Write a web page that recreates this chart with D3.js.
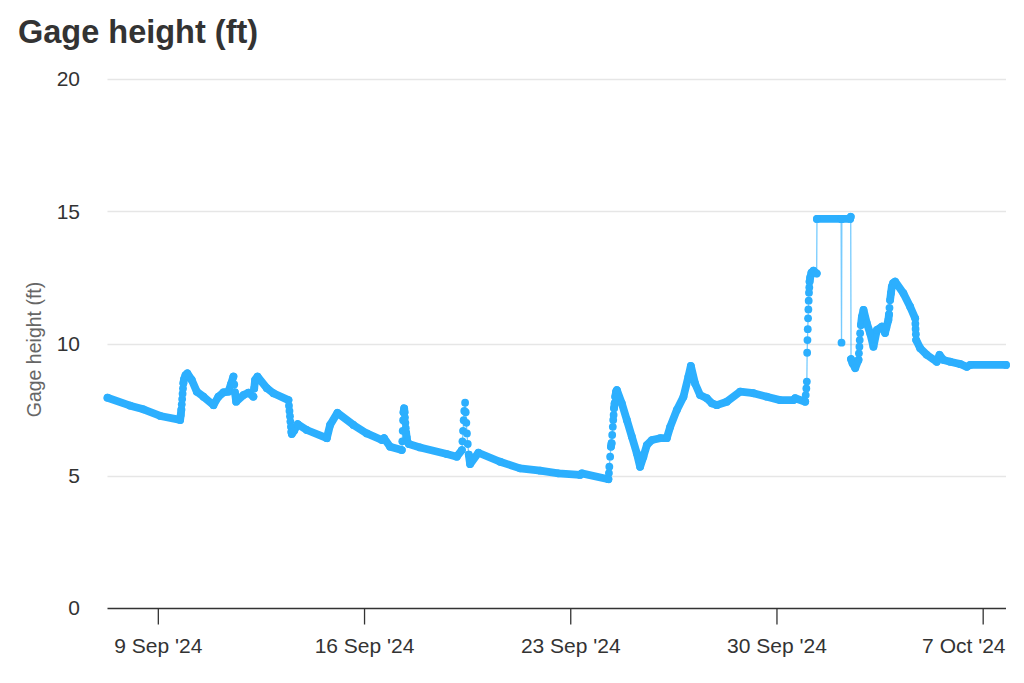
<!DOCTYPE html>
<html lang="en">
<head>
<meta charset="utf-8">
<style>
  body { margin: 0; background: #fff; }
  svg { display: block; font-family: "Liberation Sans", Arial, Helvetica, sans-serif; }
  .grid line { stroke: #e6e6e6; stroke-width: 1.5; }
  .x-axis path, .x-axis line { stroke: #333; stroke-width: 1.3; }
  .x-axis text, .y-labels text { fill: #333; font-size: 21px; }
</style>
</head>
<body>
<script src="https://cdn.jsdelivr.net/npm/d3@7"></script>
<script>
// gage readings (local time)
var readingTimes = [
  "2024-09-07 07:00", "2024-09-08 01:30", "2024-09-08 12:15", "2024-09-09 02:00", "2024-09-09 18:10",
  "2024-09-09 18:40", "2024-09-09 19:10", "2024-09-09 19:30", "2024-09-09 19:50", "2024-09-09 20:10",
  "2024-09-09 20:30", "2024-09-09 20:50", "2024-09-09 21:20", "2024-09-09 22:30", "2024-09-10 00:05",
  "2024-09-10 03:40", "2024-09-10 07:45", "2024-09-10 13:10", "2024-09-10 21:20", "2024-09-11 01:20",
  "2024-09-11 05:25", "2024-09-11 09:30", "2024-09-11 11:30", "2024-09-11 13:35", "2024-09-11 14:15",
  "2024-09-11 14:50", "2024-09-11 15:50", "2024-09-11 21:45", "2024-09-12 01:50", "2024-09-12 05:50",
  "2024-09-12 06:30", "2024-09-12 07:15", "2024-09-12 09:10", "2024-09-12 16:50", "2024-09-12 22:10",
  "2024-09-13 10:25", "2024-09-13 10:50", "2024-09-13 11:15", "2024-09-13 11:40", "2024-09-13 12:00",
  "2024-09-13 12:25", "2024-09-13 12:50", "2024-09-13 13:10", "2024-09-13 15:00", "2024-09-13 18:00",
  "2024-09-14 01:20", "2024-09-14 17:40", "2024-09-14 20:20", "2024-09-15 02:20", "2024-09-15 15:20",
  "2024-09-16 02:15", "2024-09-16 14:30", "2024-09-16 16:20", "2024-09-16 21:15", "2024-09-17 06:45",
  "2024-09-17 07:10", "2024-09-17 07:30", "2024-09-17 07:50", "2024-09-17 08:10", "2024-09-17 08:40",
  "2024-09-17 09:00", "2024-09-17 09:20", "2024-09-17 09:40", "2024-09-17 10:00", "2024-09-17 10:20",
  "2024-09-17 10:45", "2024-09-17 11:15", "2024-09-17 12:30", "2024-09-17 21:40", "2024-09-18 19:25",
  "2024-09-19 03:35", "2024-09-19 07:40", "2024-09-19 08:10", "2024-09-19 08:40", "2024-09-19 09:10",
  "2024-09-19 09:40", "2024-09-19 10:20", "2024-09-19 10:50", "2024-09-19 11:20", "2024-09-19 11:50",
  "2024-09-19 12:30", "2024-09-19 13:20", "2024-09-19 14:25", "2024-09-19 21:10", "2024-09-20 14:50",
  "2024-09-21 07:10", "2024-09-21 23:30", "2024-09-22 14:20", "2024-09-23 08:00", "2024-09-23 09:25",
  "2024-09-24 07:05", "2024-09-24 07:30", "2024-09-24 07:50", "2024-09-24 08:30", "2024-09-24 09:10",
  "2024-09-24 09:40", "2024-09-24 10:10", "2024-09-24 10:40", "2024-09-24 11:00", "2024-09-24 11:20",
  "2024-09-24 11:40", "2024-09-24 12:10", "2024-09-24 12:40", "2024-09-24 13:20", "2024-09-24 14:00",
  "2024-09-24 18:00", "2024-09-24 22:05", "2024-09-25 02:10", "2024-09-25 06:15", "2024-09-25 08:55",
  "2024-09-25 11:35", "2024-09-25 14:25", "2024-09-25 18:30", "2024-09-26 01:15", "2024-09-26 06:40",
  "2024-09-26 09:25", "2024-09-26 14:50", "2024-09-26 20:15", "2024-09-27 00:15", "2024-09-27 02:15",
  "2024-09-27 05:40", "2024-09-27 09:45", "2024-09-27 15:15", "2024-09-27 19:20", "2024-09-27 23:25",
  "2024-09-28 07:35", "2024-09-28 18:25", "2024-09-29 05:15", "2024-09-29 16:10", "2024-09-30 02:55",
  "2024-09-30 13:50", "2024-09-30 15:15", "2024-09-30 23:25",
  "2024-09-30 23:50", "2024-10-01 00:20", "2024-10-01 00:45", "2024-10-01 01:00", "2024-10-01 01:15",
  "2024-10-01 01:30", "2024-10-01 01:45", "2024-10-01 02:00", "2024-10-01 02:15", "2024-10-01 02:30",
  "2024-10-01 02:45", "2024-10-01 03:00", "2024-10-01 03:30", "2024-10-01 04:30", "2024-10-01 06:10",
  "2024-10-01 08:45", "2024-10-01 09:00", "2024-10-02 04:40", "2024-10-02 05:00", "2024-10-02 05:15",
  "2024-10-02 12:00", "2024-10-02 12:30", "2024-10-02 12:45", "2024-10-02 14:00", "2024-10-02 16:10",
  "2024-10-02 18:50", "2024-10-02 19:10", "2024-10-02 19:35", "2024-10-02 19:50", "2024-10-02 20:10",
  "2024-10-02 20:50", "2024-10-02 21:35", "2024-10-02 22:55", "2024-10-03 01:40", "2024-10-03 04:20",
  "2024-10-03 07:00", "2024-10-03 09:50", "2024-10-03 13:50", "2024-10-03 16:30", "2024-10-03 17:30",
  "2024-10-03 19:10", "2024-10-03 19:40", "2024-10-03 20:05", "2024-10-03 20:35", "2024-10-03 21:15",
  "2024-10-03 22:00", "2024-10-03 23:00", "2024-10-04 00:40", "2024-10-04 07:25", "2024-10-04 12:55",
  "2024-10-04 17:00", "2024-10-04 17:10", "2024-10-04 17:20", "2024-10-04 17:35", "2024-10-04 17:50",
  "2024-10-04 21:05", "2024-10-05 02:30", "2024-10-05 10:35", "2024-10-05 12:50", "2024-10-05 16:05",
  "2024-10-05 21:30", "2024-10-06 05:55", "2024-10-06 11:05", "2024-10-06 13:50", "2024-10-07 19:00"
];
var gageHeights = [
  7.95, 7.65, 7.51, 7.26, 7.11,
  7.30, 7.50, 7.70, 7.90, 8.10,
  8.30, 8.50, 8.65, 8.80, 8.87,
  8.62, 8.18, 7.99, 7.67, 7.99,
  8.15, 8.18, 8.45, 8.75, 8.45,
  8.15, 7.80, 8.05, 8.14, 7.99,
  8.30, 8.62, 8.75, 8.31, 8.12,
  7.86, 7.65, 7.45, 7.25, 7.05,
  6.85, 6.65, 6.58, 6.70, 6.95,
  6.73, 6.42, 6.92, 7.38, 6.92,
  6.60, 6.35, 6.42, 6.10, 5.97,
  6.30, 6.70, 7.10, 7.40, 7.55,
  7.40, 7.20, 7.00, 6.80, 6.62,
  6.45, 6.30, 6.20, 6.07, 5.82,
  5.72, 5.97, 6.30, 6.70, 7.10,
  7.45, 7.76, 7.40, 7.00, 6.60,
  6.20, 5.80, 5.44, 5.87, 5.53,
  5.28, 5.19, 5.09, 5.03, 5.09,
  4.87, 5.10, 5.34, 5.72, 6.10,
  6.23, 6.54, 6.85, 7.11, 7.30,
  7.55, 7.74, 7.99, 8.18, 8.24,
  7.74, 7.11, 6.48, 5.85, 5.34,
  5.72, 6.16, 6.35, 6.42, 6.42,
  6.85, 7.49, 7.99, 8.75, 9.15,
  8.49, 8.05, 7.93, 7.74, 7.67,
  7.80, 8.18, 8.12, 7.99, 7.86,
  7.86, 7.93, 7.80,
  8.05, 8.30, 8.56, 9.65, 10.13,
  10.54, 10.95, 11.29, 11.62, 11.92,
  12.12, 12.34, 12.50, 12.68, 12.75,
  12.65, 14.71, 14.71, 10.03, 14.71,
  14.71, 14.79, 9.41, 9.25, 9.07,
  9.38, 9.63, 9.88, 10.13, 10.39,
  10.70, 11.01, 11.27, 10.76, 10.39,
  9.88, 10.51, 10.64, 10.40, 10.60,
  10.89, 11.10, 11.35, 11.64, 11.90,
  12.15, 12.28, 12.34, 11.90, 11.39,
  10.95, 10.75, 10.55, 10.35, 10.13,
  9.82, 9.57, 9.31, 9.57, 9.38,
  9.31, 9.22, 9.12, 9.19, 9.19
];
var weekTicks = ["2024-09-09", "2024-09-16", "2024-09-23", "2024-09-30", "2024-10-07"];
var heightTicks = [0, 5, 10, 15, 20];

var width = 1024, height = 683;
var plotLeft = 107.5, plotRight = 1006, plotTop = 79, plotBottom = 608;
var blue = "#2caffe";

var parseTime = d3.timeParse("%Y-%m-%d %H:%M");
var parseDay = d3.timeParse("%Y-%m-%d");

var data = readingTimes.map(function (t, i) {
  return { t: parseTime(t), v: gageHeights[i] };
});

var x = d3.scaleTime()
  .domain(d3.extent(data, function (d) { return d.t; }))
  .range([plotLeft, plotRight]);
var y = d3.scaleLinear()
  .domain([0, 20])
  .range([plotBottom, plotTop]);

var svg = d3.select("body")
  .append("svg")
  .attr("width", width)
  .attr("height", height);

// title
svg.append("text")
  .attr("x", 18)
  .attr("y", 43)
  .style("font-size", "32.5px")
  .style("font-weight", "bold")
  .style("fill", "#333")
  .text("Gage height (ft)");

// horizontal grid
svg.append("g")
  .attr("class", "grid")
  .selectAll("line")
  .data(heightTicks.filter(function (d) { return d > 0; }))
  .enter()
  .append("line")
  .attr("x1", plotLeft)
  .attr("x2", plotRight)
  .attr("y1", function (d) { return Math.round(y(d)) + 0.5; })
  .attr("y2", function (d) { return Math.round(y(d)) + 0.5; });

// y labels
svg.append("g")
  .attr("class", "y-labels")
  .selectAll("text")
  .data(heightTicks)
  .enter()
  .append("text")
  .attr("x", 80)
  .attr("y", function (d) { return y(d); })
  .attr("dy", "0.35em")
  .attr("text-anchor", "end")
  .text(function (d) { return d; });

svg.append("text")
  .attr("transform", "translate(41," + ((plotTop + plotBottom) / 2 + 6) + ") rotate(-90)")
  .attr("text-anchor", "middle")
  .style("font-size", "19.5px")
  .style("fill", "#666")
  .text("Gage height (ft)");

// x axis
var xAxis = d3.axisBottom(x)
  .tickValues(weekTicks.map(parseDay))
  .tickFormat(d3.timeFormat("%-d %b '%y"))
  .tickSize(16)
  .tickSizeOuter(0)
  .tickPadding(12);

var gx = svg.append("g")
  .attr("class", "x-axis")
  .attr("transform", "translate(0," + (plotBottom + 0.5) + ")")
  .call(xAxis);
gx.select(".domain").attr("d", "M" + plotLeft + ",0H" + plotRight);
gx.selectAll("text").attr("dy", "0.8em");

// keep the last label inside the chart, like the original does
gx.selectAll(".tick").each(function (d) {
  var label = d3.select(this).select("text");
  var w = label.node().getComputedTextLength();
  var over = x(d) + w / 2 - (plotRight - 1);
  if (over > 0) label.attr("x", -over);
});

// series: thin connecting line, thick band where readings are dense, markers
var line = d3.line()
  .x(function (d) { return x(d.t); })
  .y(function (d) { return y(d.v); });

svg.append("path")
  .datum(data)
  .attr("d", line)
  .attr("fill", "none")
  .attr("stroke", blue)
  .attr("stroke-opacity", 0.65)
  .attr("stroke-width", 1.3);

// readings come every 15 min; where the level moves fast, markers separate
var runs = [], run = [data[0]];
for (var i = 1; i < data.length; i++) {
  var hours = (data[i].t - data[i - 1].t) / 3600000;
  var rate = Math.abs(data[i].v - data[i - 1].v) / hours;
  if (rate < 0.45) {
    run.push(data[i]);
  } else {
    if (run.length > 1) runs.push(run);
    run = [data[i]];
  }
}
if (run.length > 1) runs.push(run);

svg.append("g")
  .selectAll("path")
  .data(runs)
  .enter()
  .append("path")
  .attr("d", line)
  .attr("fill", "none")
  .attr("stroke", blue)
  .attr("stroke-width", 7.8)
  .attr("stroke-linejoin", "round")
  .attr("stroke-linecap", "round");

svg.append("g")
  .selectAll("circle")
  .data(data)
  .enter()
  .append("circle")
  .attr("cx", function (d) { return x(d.t); })
  .attr("cy", function (d) { return y(d.v); })
  .attr("r", 3.9)
  .attr("fill", blue);
</script>
</body>
</html>
